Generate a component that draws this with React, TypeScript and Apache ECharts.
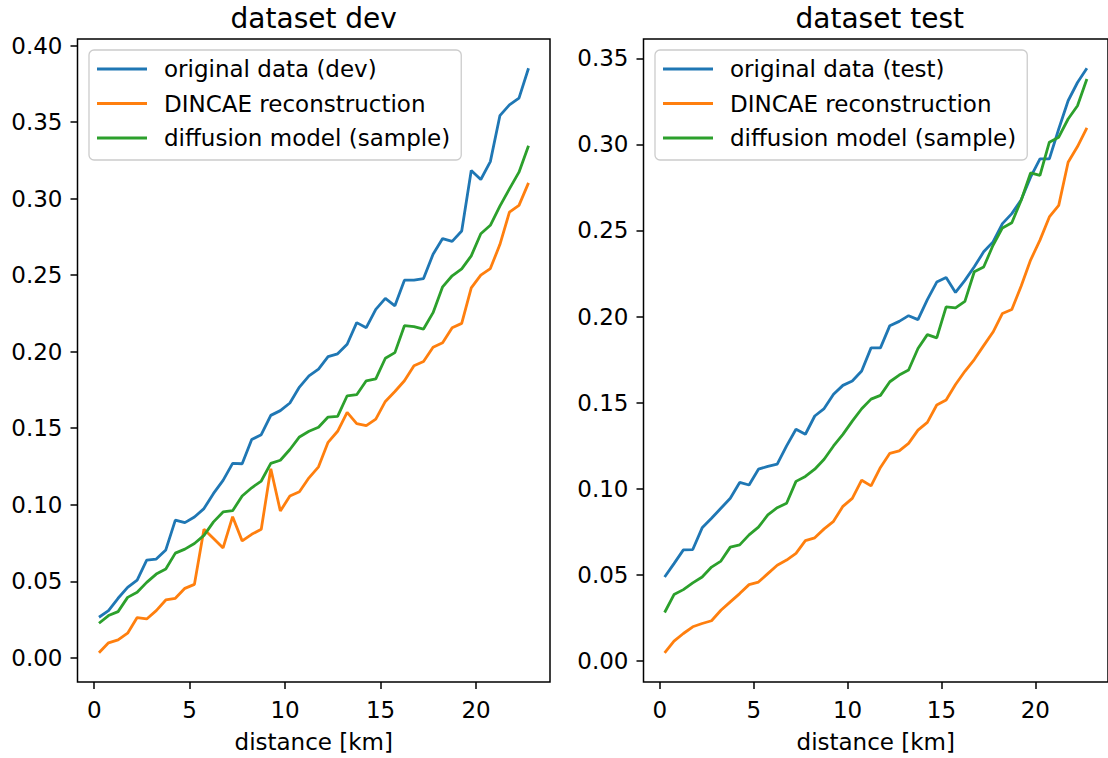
import React, { useEffect, useRef } from "react";
import * as echarts from "echarts";

const distance = [0.25, 0.75, 1.25, 1.75, 2.25, 2.75, 3.25, 3.75, 4.25, 4.75, 5.25, 5.75, 6.25, 6.75, 7.25, 7.75, 8.25, 8.75, 9.25, 9.75, 10.25, 10.75, 11.25, 11.75, 12.25, 12.75, 13.25, 13.75, 14.25, 14.75, 15.25, 15.75, 16.25, 16.75, 17.25, 17.75, 18.25, 18.75, 19.25, 19.75, 20.25, 20.75, 21.25, 21.75, 22.25, 22.75];

const devOriginal = [0.0265, 0.0308, 0.0389, 0.046, 0.0508, 0.0638, 0.0645, 0.0705, 0.090, 0.0883, 0.092, 0.0975, 0.1074, 0.1159, 0.127, 0.1268, 0.1426, 0.1458, 0.1584, 0.1615, 0.1665, 0.1769, 0.1842, 0.1886, 0.1968, 0.1986, 0.2049, 0.219, 0.2157, 0.2277, 0.2348, 0.230, 0.2467, 0.2467, 0.2478, 0.2637, 0.2739, 0.2721, 0.2789, 0.3184, 0.3125, 0.3242, 0.3542, 0.3613, 0.3657, 0.3852];
const devDincae = [0.0033, 0.0098, 0.0117, 0.0161, 0.0263, 0.0254, 0.0308, 0.0378, 0.0389, 0.0454, 0.048, 0.084, 0.0779, 0.0718, 0.0922, 0.0764, 0.0807, 0.084, 0.1235, 0.0959, 0.1057, 0.1085, 0.1176, 0.1248, 0.1408, 0.148, 0.1604, 0.153, 0.1517, 0.156, 0.1675, 0.174, 0.181, 0.1908, 0.1936, 0.2029, 0.2059, 0.2157, 0.2185, 0.2417, 0.25, 0.2543, 0.27, 0.2912, 0.2956, 0.3103];
const devDiffusion = [0.0226, 0.0276, 0.0302, 0.0395, 0.0428, 0.0493, 0.0547, 0.058, 0.0684, 0.071, 0.0747, 0.080, 0.0888, 0.0953, 0.0961, 0.1057, 0.1111, 0.1155, 0.127, 0.1291, 0.1361, 0.1443, 0.148, 0.1506, 0.1573, 0.1577, 0.1712, 0.1719, 0.181, 0.1823, 0.1957, 0.1994, 0.217, 0.2164, 0.2148, 0.2255, 0.2424, 0.2496, 0.2541, 0.2626, 0.2771, 0.2826, 0.2951, 0.3064, 0.3173, 0.3346];

const testOriginal = [0.0486, 0.0564, 0.0644, 0.0646, 0.0772, 0.0828, 0.0886, 0.0944, 0.1036, 0.1021, 0.1113, 0.1129, 0.1142, 0.1248, 0.1345, 0.1316, 0.1422, 0.1465, 0.1548, 0.16, 0.1625, 0.1683, 0.1818, 0.1818, 0.1947, 0.1972, 0.2005, 0.1982, 0.2098, 0.22, 0.2227, 0.214, 0.221, 0.2289, 0.2376, 0.2434, 0.254, 0.2598, 0.2679, 0.281, 0.2916, 0.2916, 0.309, 0.3254, 0.336, 0.3443];
const testDincae = [0.0046, 0.0114, 0.0158, 0.0197, 0.0216, 0.0232, 0.0293, 0.0342, 0.039, 0.0442, 0.0457, 0.0506, 0.0555, 0.0585, 0.0624, 0.0698, 0.0714, 0.0766, 0.081, 0.0897, 0.0943, 0.1049, 0.1016, 0.1123, 0.1205, 0.1219, 0.1263, 0.134, 0.1385, 0.1486, 0.1515, 0.1605, 0.1682, 0.175, 0.1831, 0.191, 0.2018, 0.2041, 0.2178, 0.2328, 0.2444, 0.2579, 0.2646, 0.2897, 0.2988, 0.3096];
const testDiffusion = [0.028, 0.0384, 0.0413, 0.0452, 0.0486, 0.0544, 0.0579, 0.066, 0.0673, 0.0731, 0.0776, 0.0847, 0.0889, 0.0915, 0.1042, 0.1071, 0.1113, 0.1171, 0.1248, 0.1315, 0.1392, 0.1464, 0.152, 0.1542, 0.1621, 0.166, 0.1689, 0.1814, 0.1895, 0.1876, 0.2056, 0.205, 0.2088, 0.226, 0.2288, 0.2414, 0.2515, 0.2545, 0.2676, 0.2835, 0.282, 0.3013, 0.3042, 0.3148, 0.3225, 0.338];

const xTicks = [0, 5, 10, 15, 20];
const devYTicks = [0, 0.05, 0.1, 0.15, 0.2, 0.25, 0.3, 0.35, 0.4];
const testYTicks = [0, 0.05, 0.1, 0.15, 0.2, 0.25, 0.3, 0.35];

const titles = ["dataset dev", "dataset test"];
const seriesNamesDev = ["original data (dev)", "DINCAE reconstruction", "diffusion model (sample)"];
const seriesNamesTest = ["original data (test)", "DINCAE reconstruction", "diffusion model (sample)"];
const xLabel = "distance [km]";

const COLORS = ["#1f77b4", "#ff7f0e", "#2ca02c"];
const FONT = "DejaVu Sans";
const FS = 23;

function padRange(arrs: number[][]) {
  let lo = Infinity;
  let hi = -Infinity;
  arrs.forEach((a) => a.forEach((v) => { if (v < lo) lo = v; if (v > hi) hi = v; }));
  const m = (hi - lo) * 0.05;
  return [lo - m, hi + m];
}

export default function App() {
  const ref = useRef<HTMLDivElement>(null);
  useEffect(() => {
    if (!ref.current) return;
    const chart = echarts.init(ref.current, null, { renderer: "svg" });
    const xr = padRange([distance]);
    const devR = padRange([devOriginal, devDincae, devDiffusion]);
    const testR = padRange([testOriginal, testDincae, testDiffusion]);

    const grids = [
      { left: 77.5, top: 39, width: 472.5, height: 645 },
      { left: 643.5, top: 39, width: 472.5, height: 645 },
    ];

    const mkX = (gi: number) => ({
      type: "value",
      gridIndex: gi,
      min: xr[0],
      max: xr[1],
      name: xLabel,
      nameLocation: "middle",
      nameGap: 48,
      nameTextStyle: { fontFamily: FONT, fontSize: FS, color: "#000" },
      axisLine: { show: false, onZero: false },
      splitLine: { show: false },
      axisTick: { show: true, inside: false, length: 7, lineStyle: { color: "#000", width: 1.5 }, customValues: xTicks },
      axisLabel: { fontFamily: FONT, fontSize: FS, color: "#000", margin: 16, customValues: xTicks, formatter: (v: number) => String(v) },
    });
    const mkY = (gi: number, r: number[], ticks: number[]) => ({
      type: "value",
      gridIndex: gi,
      min: r[0],
      max: r[1],
      axisLine: { show: false, onZero: false },
      splitLine: { show: false },
      axisTick: { show: true, inside: false, length: 7, lineStyle: { color: "#000", width: 1.5 }, customValues: ticks },
      axisLabel: { fontFamily: FONT, fontSize: FS, color: "#000", margin: 15, customValues: ticks, formatter: (v: number) => v.toFixed(2) },
    });

    const mkSeries = (name: string, data: number[], color: string, gi: number) => ({
      type: "line",
      name,
      xAxisIndex: gi,
      yAxisIndex: gi,
      data: distance.map((d, i) => [d, data[i]]),
      showSymbol: false,
      symbol: "none",
      lineStyle: { color, width: 2.8 },
      itemStyle: { color },
      z: 3,
    });

    const mkLegend = (gi: number, names: string[]) => ({
      data: names,
      orient: "vertical",
      left: grids[gi].left + 11.5,
      top: 50,
      icon: "rect",
      itemWidth: 50,
      itemHeight: 3,
      itemGap: 10.5,
      selectedMode: false,
      backgroundColor: "rgba(255,255,255,0.8)",
      borderColor: "#cccccc",
      borderWidth: 1.3,
      borderRadius: 5,
      padding: [7, 11, 10, 8],
      textStyle: { fontFamily: FONT, fontSize: FS, color: "#000", lineHeight: 24, padding: [0, 0, 0, 12] },
    });

    chart.setOption({
      animation: false,
      backgroundColor: "#fff",
      grid: grids.map((g) => ({ ...g, show: true, borderColor: "#000", borderWidth: 1.5, backgroundColor: "transparent" })),
      xAxis: [mkX(0), mkX(1)],
      yAxis: [mkY(0, devR, devYTicks), mkY(1, testR, testYTicks)],
      legend: [mkLegend(0, seriesNamesDev), mkLegend(1, seriesNamesTest)],
      series: [
        mkSeries(seriesNamesDev[0], devOriginal, COLORS[0], 0),
        mkSeries(seriesNamesDev[1], devDincae, COLORS[1], 0),
        mkSeries(seriesNamesDev[2], devDiffusion, COLORS[2], 0),
        mkSeries(seriesNamesTest[0], testOriginal, COLORS[0], 1),
        mkSeries(seriesNamesTest[1], testDincae, COLORS[1], 1),
        mkSeries(seriesNamesTest[2], testDiffusion, COLORS[2], 1),
      ],
      graphic: titles.map((t, i) => ({
        type: "text",
        x: grids[i].left + grids[i].width / 2,
        y: 18,
        style: { text: t, fontFamily: FONT, fontSize: 28, fill: "#000", textAlign: "center", textVerticalAlign: "middle" },
      })),
    });
    return () => chart.dispose();
  }, []);
  return <div ref={ref} style={{ position: "absolute", left: 0, top: 0, width: 1108, height: 758 }} />;
}
